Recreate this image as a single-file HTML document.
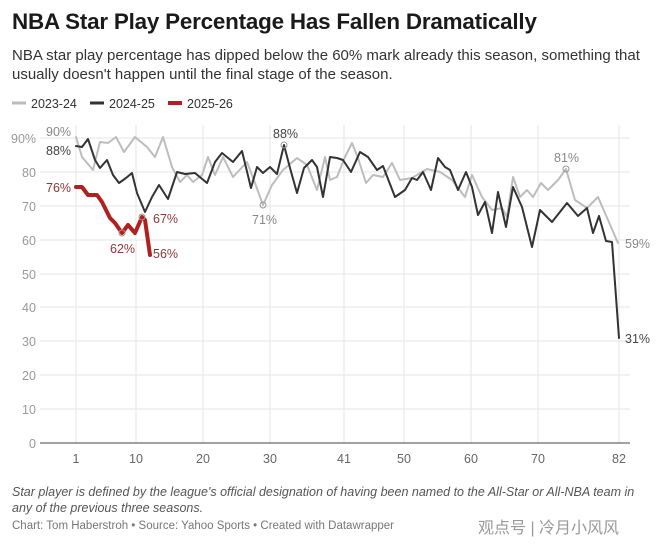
<!DOCTYPE html>
<html><head><meta charset="utf-8"><style>
body{margin:0;background:#fff;width:660px;height:546px;overflow:hidden;font-family:"Liberation Sans","Noto Sans CJK SC",sans-serif;}
.t{position:absolute;left:12px;top:9px;font-size:22.4px;font-weight:bold;color:#1a1a1a;letter-spacing:-0.2px}
.s{position:absolute;left:12px;top:46px;width:630px;font-size:15px;line-height:19px;color:#333}
.f{position:absolute;left:12px;top:484px;width:640px;font-size:12.5px;line-height:16px;color:#555;font-style:italic}
.c{position:absolute;left:12px;top:520px;font-size:11.5px;color:#777}
.w{position:absolute;left:478px;top:514px;font-size:16px;color:#999}
</style></head><body>
<div class="t">NBA Star Play Percentage Has Fallen Dramatically</div>
<div class="s">NBA star play percentage has dipped below the 60% mark already this season, something that usually doesn't happen until the final stage of the season.</div>
<svg width="660" height="546" style="position:absolute;left:0;top:0" font-family="Liberation Sans, sans-serif">
<g font-size="12.5" fill="#333">
<line x1="12" y1="103" x2="26" y2="103" stroke="#bbb" stroke-width="3"/><text x="31" y="108">2023-24</text>
<line x1="90" y1="103" x2="104" y2="103" stroke="#333" stroke-width="3"/><text x="109" y="108">2024-25</text>
<line x1="168" y1="103" x2="182" y2="103" stroke="#b0201e" stroke-width="4"/><text x="187" y="108">2025-26</text>
</g>
<g stroke="#e6e6e6" stroke-width="1">
<line x1="40" y1="138" x2="630" y2="138"/><line x1="40" y1="172" x2="630" y2="172"/><line x1="40" y1="206" x2="630" y2="206"/><line x1="40" y1="240" x2="630" y2="240"/><line x1="40" y1="274" x2="630" y2="274"/><line x1="40" y1="307" x2="630" y2="307"/><line x1="40" y1="341" x2="630" y2="341"/><line x1="40" y1="375" x2="630" y2="375"/><line x1="40" y1="409" x2="630" y2="409"/>
<line x1="76" y1="125" x2="76" y2="443"/><line x1="136" y1="125" x2="136" y2="443"/><line x1="203" y1="125" x2="203" y2="443"/><line x1="270" y1="125" x2="270" y2="443"/><line x1="344" y1="125" x2="344" y2="443"/><line x1="404" y1="125" x2="404" y2="443"/><line x1="471" y1="125" x2="471" y2="443"/><line x1="538" y1="125" x2="538" y2="443"/><line x1="619" y1="125" x2="619" y2="443"/>
</g>
<line x1="40" y1="443" x2="630" y2="443" stroke="#444" stroke-width="1"/>
<g font-size="12.5" fill="#999">
<text x="11" y="143">90%</text><text x="22" y="177">80</text><text x="22" y="211">70</text><text x="22" y="245">60</text><text x="22" y="279">50</text><text x="22" y="312">40</text><text x="22" y="346">30</text><text x="22" y="380">20</text><text x="22" y="414">10</text><text x="29" y="448">0</text>
</g>
<g font-size="12.5" fill="#666" text-anchor="middle">
<text x="76" y="463">1</text><text x="136" y="463">10</text><text x="203" y="463">20</text><text x="270" y="463">30</text><text x="344" y="463">41</text><text x="404" y="463">50</text><text x="471" y="463">60</text><text x="538" y="463">70</text><text x="619" y="463">82</text>
</g>
<g fill="none" stroke-linejoin="round" stroke-linecap="round">
<polyline stroke="#bdbdbd" stroke-width="2" points="76,137 82,157 93,170 100,142 108,143 116,137 124,152 135,137 147,147 155,157 163,137 172,167 180,182 187,175 193,182 202,175 208,157 215,175 223,157 233,177 247,162 255,183 263,205 272,185 283,170 297,158 307,165 317,190 325,157 330,180 337,177 345,157 352,143 358,158 366,183 373,175 383,177 392,163 400,180 412,178 427,169 440,172 452,180 465,197 472,175 482,197 492,210 502,208 507,217 513,177 520,197 527,190 533,197 541,183 548,190 558,180 566,169 575,200 587,208 598,197 608,220 618,243"/>
<polyline stroke="#333" stroke-width="2" points="76,146 82,147 88,139 95,160 100,168 107,160 113,175 119,183 126,178 132,173 137,193 145,212 152,197 159,185 168,199 177,172 185,174 195,173 207,183 215,162 222,153 233,162 242,151 251,188 257,167 263,173 270,167 277,174 284,145 290,168 297,193 304,168 312,160 317,167 323,197 330,157 337,158 343,160 351,172 360,152 368,157 377,170 383,166 395,197 405,190 412,178 417,180 423,172 431,190 438,158 445,167 450,170 458,190 466,172 472,187 478,215 485,202 492,233 498,192 506,227 513,187 522,207 532,247 540,210 552,222 567,203 578,216 587,208 593,233 599,216 606,241 612,242 619,338"/>
<polyline stroke="#b0201e" stroke-width="4" points="76,187 82,187 88,195 97,195 102,202 110,218 115,223 122,233 128,225 135,233 142,217 145,220 150,255"/>
</g>
<g fill="none" stroke="#999" stroke-width="1"><circle cx="263" cy="205" r="3"/><circle cx="284" cy="145" r="3"/><circle cx="566" cy="169" r="3"/><circle cx="122" cy="233" r="3"/><circle cx="142" cy="217" r="3"/></g>
<g font-size="12.5">
<text x="46" y="136" fill="#888">90%</text><text x="46" y="155" fill="#444">88%</text>
<text x="46" y="192" fill="#8b3a3a">76%</text>
<text x="110" y="253" fill="#8b3a3a">62%</text>
<text x="153" y="223" fill="#8b3a3a">67%</text>
<text x="153" y="258" fill="#8b3a3a">56%</text>
<text x="252" y="224" fill="#888">71%</text>
<text x="273" y="138" fill="#444">88%</text>
<text x="554" y="162" fill="#888">81%</text>
<text x="625" y="248" fill="#888">59%</text>
<text x="625" y="343" fill="#444">31%</text>
</g>
</svg>
<div class="f">Star player is defined by the league's official designation of having been named to the All-Star or All-NBA team in any of the previous three seasons.</div>
<div class="c">Chart: Tom Haberstroh • Source: Yahoo Sports • Created with Datawrapper</div>
<div class="w">观点号 | 冷月小风风</div>
</body></html>
